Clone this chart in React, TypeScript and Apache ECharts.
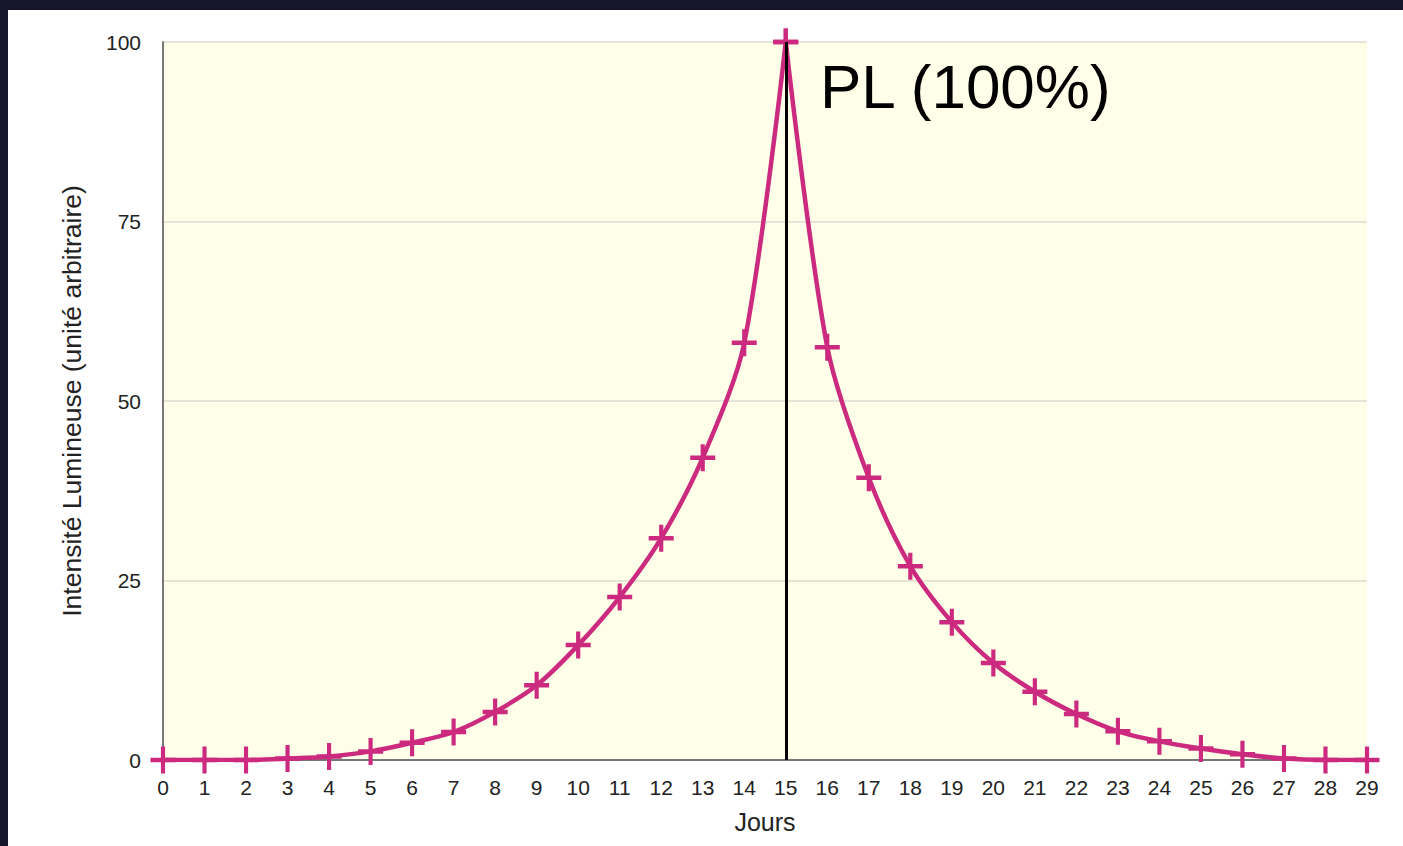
import React, { useEffect, useRef } from "react";
import * as echarts from "echarts";

const days = [0,1,2,3,4,5,6,7,8,9,10,11,12,13,14,15,16,17,18,19,20,21,22,23,24,25,26,27,28,29];
const intensity = [0,0,0,0.2,0.5,1.2,2.4,3.9,6.7,10.4,16.0,22.7,30.9,42.1,58.1,100,57.5,39.3,27.0,19.2,13.5,9.5,6.4,4.0,2.6,1.6,0.8,0.2,0,0];
const yTicks = [0, 25, 50, 75, 100];
const peakDay = 15;
const peakLabel = "PL (100%)";
const xName = "Jours";
const yName = "Intensité Lumineuse (unité arbitraire)";

const PINK = "#cc2a7e";
const PLUS = "path://M10,0 h4 v10 h10 v4 h-10 v10 h-4 v-10 h-10 v-4 h10 z";
const FONT = "Liberation Sans, Arial, sans-serif";

export default function App() {
  const ref = useRef<HTMLDivElement>(null);
  useEffect(() => {
    if (!ref.current) return;
    const chart = echarts.init(ref.current, null, { renderer: "svg" });
    const pts = days.map((d, i) => [d, intensity[i]]);
    const peakIdx = days.indexOf(peakDay);
    const rising = pts.slice(0, peakIdx + 1);
    const falling = pts.slice(peakIdx);
    const lineSeries = (data: number[][]) => ({
      type: "line",
      data,
      smooth: 0.3,
      symbol: PLUS,
      symbolSize: [25, 27],
      showAllSymbol: true,
      lineStyle: { color: PINK, width: 4.5 },
      itemStyle: { color: PINK },
      z: 3,
    });
    chart.setOption({
      animation: false,
      backgroundColor: "#ffffff",
      textStyle: { fontFamily: FONT },
      grid: { left: 163, right: 36, top: 42, bottom: 86, backgroundColor: "#fefee9", show: true, borderWidth: 0 },
      xAxis: {
        type: "value",
        min: 0,
        max: days[days.length - 1],
        interval: 1,
        name: xName,
        nameLocation: "middle",
        nameGap: 49,
        nameTextStyle: { fontSize: 25, color: "#222" },
        axisLine: { show: true, lineStyle: { color: "#777", width: 2 } },
        axisTick: { show: false },
        splitLine: { show: false },
        axisLabel: { fontSize: 21, color: "#222", margin: 17 },
      },
      yAxis: {
        type: "value",
        min: yTicks[0],
        max: yTicks[yTicks.length - 1],
        interval: yTicks[1] - yTicks[0],
        name: yName,
        nameLocation: "middle",
        nameGap: 78,
        nameTextStyle: { fontSize: 26.5, color: "#222" },
        axisLine: { show: true, lineStyle: { color: "#777", width: 2 } },
        axisTick: { show: false },
        splitLine: { show: true, lineStyle: { color: "#dcdcd0", width: 1.5 } },
        axisLabel: { fontSize: 21, color: "#222", margin: 22 },
      },
      series: [
        lineSeries(rising),
        lineSeries(falling),
        {
          type: "line",
          data: [],
          z: 5,
          markLine: {
            silent: true,
            symbol: "none",
            label: { show: false },
            lineStyle: { color: "#000", width: 3, type: "solid" },
            data: [[{ coord: [peakDay, yTicks[0]] }, { coord: [peakDay, yTicks[yTicks.length - 1]] }]],
          },
        },
      ],
      graphic: [
        { type: "rect", left: 0, top: 0, shape: { width: 1403, height: 10 }, style: { fill: "#15152b" }, z: 10 },
        { type: "rect", left: 0, top: 0, shape: { width: 8, height: 846 }, style: { fill: "#15152b" }, z: 10 },
        {
          type: "text",
          x: 820,
          y: 86,
          style: { text: peakLabel, fontSize: 62, fill: "#000", fontFamily: FONT, verticalAlign: "middle", align: "left" },
          z: 10,
        },
      ],
    });
    return () => chart.dispose();
  }, []);
  return <div ref={ref} style={{ position: "fixed", left: 0, top: 0, width: 1403, height: 846 }} />;
}
